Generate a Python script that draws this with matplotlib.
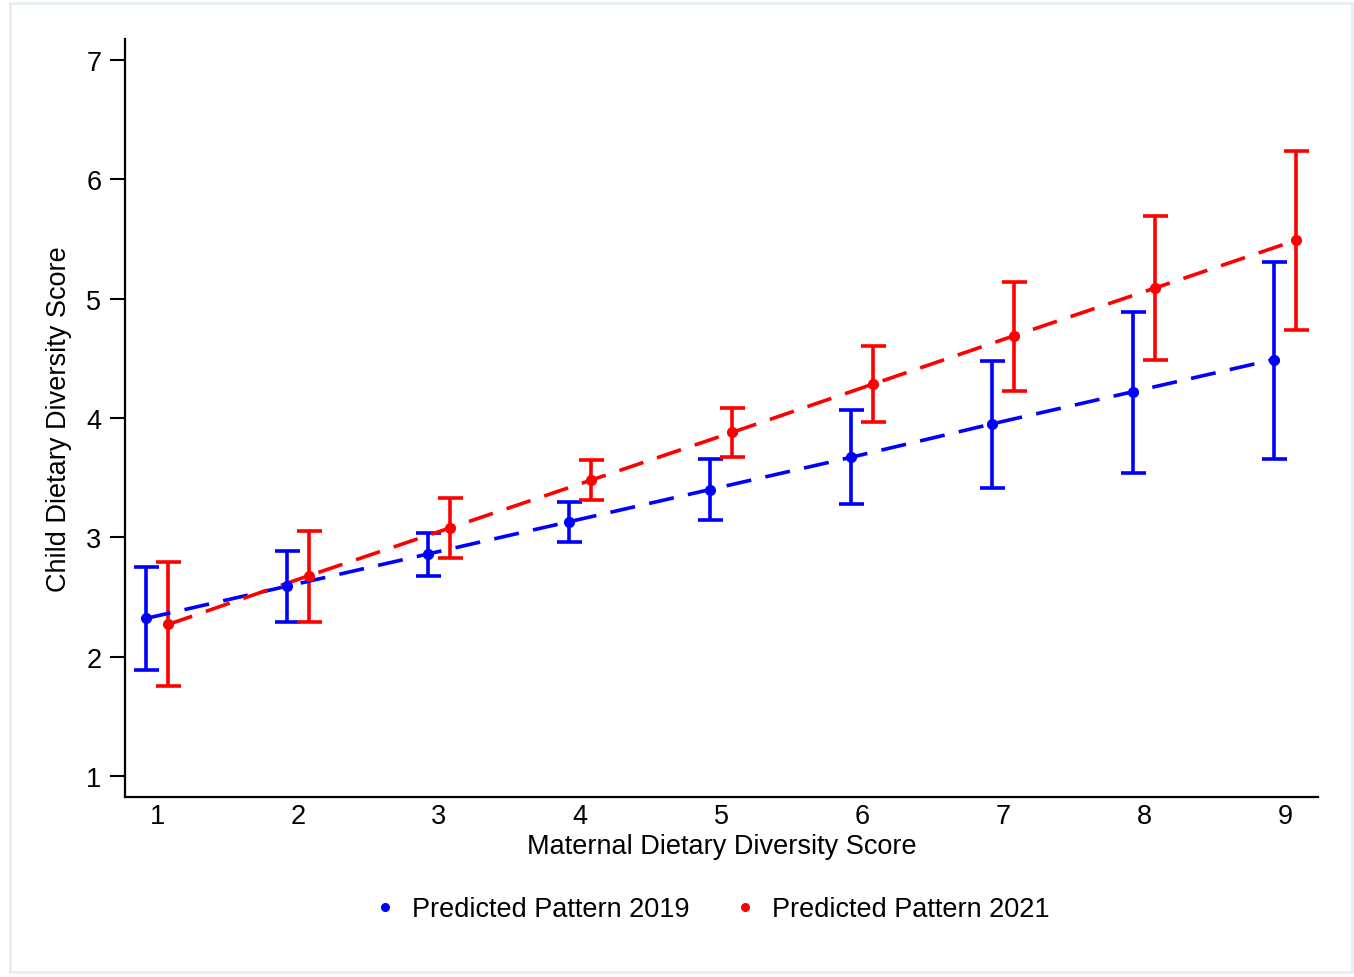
import matplotlib
matplotlib.use("Agg")
import matplotlib.pyplot as plt
from matplotlib.patches import Rectangle
from matplotlib.lines import Line2D
import numpy as np

plt.rcParams['font.family'] = ['Liberation Sans', 'DejaVu Sans']

mdds = [1, 2, 3, 4, 5, 6, 7, 8, 9]

pred_2019 = [2.32, 2.59, 2.86, 3.13, 3.40, 3.67, 3.95, 4.22, 4.49]
upper_2019 = [2.75, 2.885, 3.04, 3.30, 3.66, 4.07, 4.48, 4.89, 5.31]
lower_2019 = [1.89, 2.29, 2.68, 2.96, 3.145, 3.28, 3.41, 3.54, 3.66]

pred_2021 = [2.27, 2.68, 3.08, 3.48, 3.88, 4.285, 4.69, 5.09, 5.49]
upper_2021 = [2.79, 3.05, 3.33, 3.65, 4.08, 4.60, 5.14, 5.69, 6.24]
lower_2021 = [1.75, 2.29, 2.83, 3.31, 3.67, 3.97, 4.23, 4.49, 4.74]

x_label = "Maternal Dietary Diversity Score"
y_label = "Child Dietary Diversity Score"
legend_labels = ["Predicted Pattern 2019", "Predicted Pattern 2021"]
colors = ["#0000ff", "#ff0000"]

fig = plt.figure(figsize=(13.54, 9.78), dpi=100)
fig.patches.append(Rectangle((10 / 1354, 5 / 978), 1342 / 1354, 969 / 978,
                             transform=fig.transFigure, fill=False,
                             edgecolor="#e6eef0", linewidth=2.0, zorder=0))
ax = fig.add_axes([125 / 1354, 1 - 798 / 978, (1318 - 125) / 1354, (798 - 40) / 978])

offset = 0.08
series = [(pred_2019, lower_2019, upper_2019, -offset),
          (pred_2021, lower_2021, upper_2021, offset)]
for (pred, lo, hi, off), c in zip(series, colors):
    xs = np.array(mdds) + off
    p = np.array(pred)
    yerr = [p - np.array(lo), np.array(hi) - p]
    ax.errorbar(xs, p, yerr=yerr, fmt='none', ecolor=c, elinewidth=2.6,
                capsize=9, capthick=2.6, zorder=3)
    ax.plot(xs, p, linestyle=(0, (7, 4)), color=c, linewidth=2.6, zorder=4)
    ax.plot(xs, p, 'o', color=c, markersize=7, zorder=5)

ax.set_xlim(0.773, 9.234)
ax.set_ylim(0.824, 7.176)
ax.set_xticks(mdds)
ax.set_yticks([1, 2, 3, 4, 5, 6, 7])
ax.tick_params(axis='x', length=0, pad=4, labelsize=19.5)
ax.tick_params(axis='y', length=11, width=1.5, pad=6, labelsize=19.5, labelrotation=0)
for s in ['top', 'right']:
    ax.spines[s].set_visible(False)
for s in ['left', 'bottom']:
    ax.spines[s].set_linewidth(1.6)
ax.set_xlabel(x_label, fontsize=19.5, labelpad=3)
ax.set_ylabel(y_label, fontsize=19.5, labelpad=10)

handles = [Line2D([], [], marker='o', linestyle='none', color=c, markersize=5.5)
           for c in colors]
fig.legend(handles, legend_labels, loc='center', bbox_to_anchor=(0.5245, 1 - 910 / 978),
           ncol=2, frameon=False, fontsize=19.5, handlelength=1.0, handletextpad=0.5,
           columnspacing=1.55)

fig.savefig("out.png", dpi=100)
